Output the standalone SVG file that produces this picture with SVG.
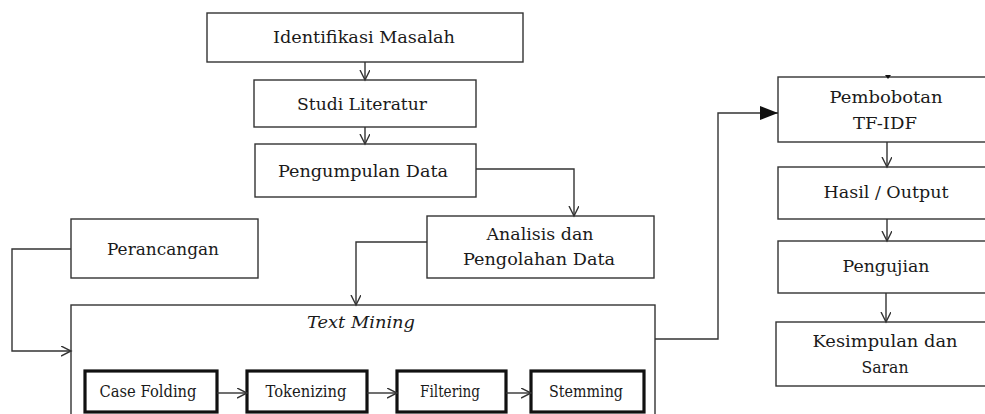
<svg xmlns="http://www.w3.org/2000/svg" width="985" height="414" viewBox="0 0 985 414">
<style>
.b{fill:#fff;stroke:#333;stroke-width:1.4}
.t{fill:#fff;stroke:#111;stroke-width:3.2}
.c{fill:none;stroke:#333;stroke-width:1.4}
text{font-family:'DejaVu Serif','Liberation Serif',serif;font-size:16px;fill:#1a1a1a;text-anchor:middle}
.it{font-style:italic}
</style>
<defs>
<marker id="v" markerWidth="12" markerHeight="12" refX="10" refY="5" orient="auto" markerUnits="userSpaceOnUse" viewBox="0 0 12 12">
<polyline points="0,0 10,5 0,10" fill="none" stroke="#333" stroke-width="1.4"/>
</marker>
<marker id="f" markerWidth="20" markerHeight="16" refX="18" refY="7" orient="auto" markerUnits="userSpaceOnUse" viewBox="0 0 20 16">
<polygon points="0,0 18,7 0,14" fill="#111"/>
</marker>
</defs>
<rect width="985" height="414" fill="#fff"/>
<g id="n1"><rect class="b" x="207" y="13" width="316" height="49"/><text x="364" y="43" textLength="182" lengthAdjust="spacingAndGlyphs">Identifikasi Masalah</text></g>
<g id="n2"><rect class="b" x="254" y="80" width="222" height="47"/><text x="362" y="110" textLength="130" lengthAdjust="spacingAndGlyphs">Studi Literatur</text></g>
<g id="n3"><rect class="b" x="255" y="144" width="221" height="53"/><text x="363" y="177" textLength="170" lengthAdjust="spacingAndGlyphs">Pengumpulan Data</text></g>
<g id="n4"><rect class="b" x="427" y="216" width="227" height="62"/><text x="540" y="240" textLength="107" lengthAdjust="spacingAndGlyphs">Analisis dan</text><text x="539" y="265" textLength="152" lengthAdjust="spacingAndGlyphs">Pengolahan Data</text></g>
<g id="n5"><rect class="b" x="71" y="219" width="187" height="59"/><text x="163" y="255" textLength="112" lengthAdjust="spacingAndGlyphs">Perancangan</text></g>
<g id="n6"><rect class="b" x="71" y="305" width="584" height="120"/><text class="it" x="361" y="328" textLength="108" lengthAdjust="spacingAndGlyphs">Text Mining</text></g>
<g id="n7"><rect class="t" x="85" y="371" width="132" height="41"/><text x="148" y="397" textLength="97" lengthAdjust="spacingAndGlyphs">Case Folding</text></g>
<g id="n8"><rect class="t" x="247" y="371" width="120" height="41"/><text x="306" y="397" textLength="81" lengthAdjust="spacingAndGlyphs">Tokenizing</text></g>
<g id="n9"><rect class="t" x="397" y="371" width="109" height="41"/><text x="450" y="397" textLength="60" lengthAdjust="spacingAndGlyphs">Filtering</text></g>
<g id="n10"><rect class="t" x="531" y="371" width="113" height="41"/><text x="586" y="397" textLength="74" lengthAdjust="spacingAndGlyphs">Stemming</text></g>
<g id="n11"><rect class="b" x="778" y="77" width="220" height="65"/><text x="886" y="103" textLength="113" lengthAdjust="spacingAndGlyphs">Pembobotan</text><text x="885" y="129" textLength="64" lengthAdjust="spacingAndGlyphs">TF-IDF</text></g>
<g id="n12"><rect class="b" x="778" y="167" width="220" height="52"/><text x="886" y="198" textLength="125" lengthAdjust="spacingAndGlyphs">Hasil / Output</text></g>
<g id="n13"><rect class="b" x="778" y="241" width="220" height="52"/><text x="886" y="272" textLength="87" lengthAdjust="spacingAndGlyphs">Pengujian</text></g>
<g id="n14"><rect class="b" x="776" y="322" width="222" height="64"/><text x="885" y="347" textLength="145" lengthAdjust="spacingAndGlyphs">Kesimpulan dan</text><text x="885" y="373" textLength="47" lengthAdjust="spacingAndGlyphs">Saran</text></g>
<g id="connectors">
<path class="c" d="M365,62 V80" marker-end="url(#v)"/>
<path class="c" d="M365,127 V144" marker-end="url(#v)"/>
<path class="c" d="M476,169 H574 V216" marker-end="url(#v)"/>
<path class="c" d="M427,242 H356 V305" marker-end="url(#v)"/>
<path class="c" d="M71,249 H12 V351 H71" marker-end="url(#v)"/>
<path class="c" d="M655,339 H718 V113 H778" marker-end="url(#f)"/>
<path class="c" d="M887,142 V167" marker-end="url(#v)"/>
<path class="c" d="M887,219 V241" marker-end="url(#v)"/>
<path class="c" d="M886,293 V322" marker-end="url(#v)"/>
<path class="c" d="M217,393 H247" marker-end="url(#v)"/>
<path class="c" d="M367,393 H397" marker-end="url(#v)"/>
<path class="c" d="M506,393 H531" marker-end="url(#v)"/>
<polygon points="885,75 891,75 888,79" fill="#111"/>
</g>
</svg>
